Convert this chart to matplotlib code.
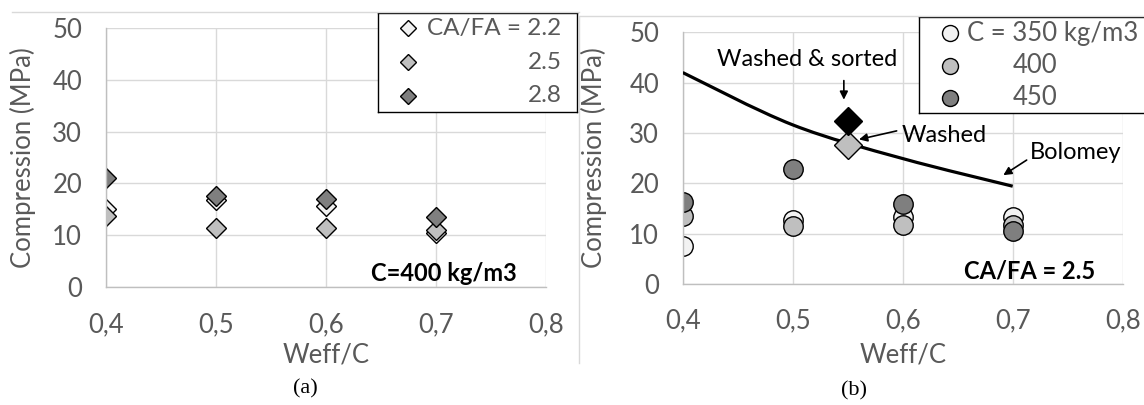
import matplotlib
matplotlib.use("Agg")
import matplotlib.pyplot as plt
import numpy as np
from matplotlib.path import Path
from matplotlib.patches import PathPatch
from matplotlib.lines import Line2D

plt.rcParams['font.family'] = ['Lato', 'DejaVu Sans']

# W/C ratios and compression strengths (MPa)
wc = [0.4, 0.5, 0.6, 0.7]
ca_fa_22 = [15.0, 16.8, 15.6, 10.5]
ca_fa_25 = [13.7, 11.3, 11.3, 11.0]
ca_fa_28 = [21.1, 17.5, 16.9, 13.5]

c350 = [7.5, 12.7, 13.3, 13.3]
c400 = [13.5, 11.4, 11.7, 11.7]
c450 = [16.3, 22.8, 15.9, 10.4]

bolomey = [42.0, 31.6, 24.9, 19.4]

wc_special = [0.55]
washed_sorted = [32.4]
washed = [27.5]

x_ticks = [0.4, 0.5, 0.6, 0.7, 0.8]
x_ticklabels = ['0,4', '0,5', '0,6', '0,7', '0,8']
y_ticks = [0, 10, 20, 30, 40, 50]

WHITE, LIGHT, DARK = '#f2f2f2', '#bfbfbf', '#7f7f7f'
TXT = '#595959'
FS = 18.5
W, H = 1144, 405


def fx(x):
    return x / W


def fy(y):
    return 1 - y / H


fig = plt.figure(figsize=(W / 100, H / 100), dpi=100)


def setup(ax, xpad):
    ax.set_xlim(0.4, 0.8)
    ax.set_ylim(0, 50)
    ax.set_xticks(x_ticks)
    ax.set_xticklabels(x_ticklabels)
    ax.set_yticks(y_ticks)
    ax.grid(True, color='#d9d9d9', lw=1)
    ax.set_axisbelow(True)
    for s in ['top', 'right']:
        ax.spines[s].set_visible(False)
    for s in ['left', 'bottom']:
        ax.spines[s].set_color('#bfbfbf')
        ax.spines[s].set_linewidth(1)
    ax.tick_params(axis='both', length=0, colors=TXT, labelsize=FS)
    ax.tick_params(axis='y', pad=17)
    ax.tick_params(axis='x', pad=xpad)


def excel_smooth(ax, xs, ys, **kw):
    pts = np.column_stack([xs, ys])
    n = len(pts)
    verts = [pts[0]]
    codes = [Path.MOVETO]
    for i in range(n - 1):
        p0 = pts[i - 1] if i > 0 else pts[i]
        p1, p2 = pts[i], pts[i + 1]
        p3 = pts[i + 2] if i + 2 < n else pts[i + 1]
        verts += [p1 + (p2 - p0) / 6, p2 - (p3 - p1) / 6, p2]
        codes += [Path.CURVE4] * 3
    ax.add_patch(PathPatch(Path(verts, codes), fill=False, **kw))


# ---- panel (a)
ax1 = fig.add_axes([fx(105.7), fy(286.8), 440 / W, (286.8 - 28.3) / H])
setup(ax1, 18.5)
for vals, col in [(ca_fa_22, WHITE), (ca_fa_25, LIGHT), (ca_fa_28, DARK)]:
    ax1.plot(wc, vals, 'D', ms=10, mfc=col, mec='black', mew=1, ls='none')
ax1.text(0.774, 2.6, 'C=400 kg/m3', ha='right', va='center',
         fontsize=17, fontweight='bold', color='black')

# ---- panel (b)
ax2 = fig.add_axes([fx(682.7), fy(283.8), 440 / W, (283.8 - 32.3) / H])
setup(ax2, 17.5)
for vals, col in [(c350, WHITE), (c400, LIGHT), (c450, DARK)]:
    ax2.plot(wc, vals, 'o', ms=14, mfc=col, mec='black', mew=1, ls='none')
excel_smooth(ax2, wc, bolomey, color='black', lw=2.3, zorder=3)
ax2.plot(wc_special, washed, 'D', ms=14, mfc=LIGHT, mec='black', mew=1, zorder=4)
ax2.plot(wc_special, washed_sorted, 'D', ms=14, mfc='black', mec='black', mew=1, zorder=4)

arr = dict(arrowstyle='-|>', color='black', lw=1.2, mutation_scale=12, shrinkA=0, shrinkB=0)
ax2.text(0.513, 44.5, 'Washed & sorted', ha='center', va='center', fontsize=17)
ax2.annotate('', xy=(0.5465, 36.6), xytext=(0.5465, 40.4), arrowprops=arr)
ax2.text(0.599, 29.4, 'Washed', ha='left', va='center', fontsize=17)
ax2.annotate('', xy=(0.5603, 28.7), xytext=(0.5945, 30.4), arrowprops=arr)
ax2.text(0.7157, 26.1, 'Bolomey', ha='left', va='center', fontsize=17)
ax2.annotate('', xy=(0.6915, 21.6), xytext=(0.7127, 24.6), arrowprops=arr)
ax2.text(0.7755, 2.6, 'CA/FA = 2.5', ha='right', va='center',
         fontsize=17, fontweight='bold', color='black')

# axis titles and panel labels
for cx, cy_lab in [(23.3, 157.5), (594, 158)]:
    fig.text(fx(cx), fy(cy_lab), 'Compression (MPa)', rotation=90, ha='center',
             va='center', fontsize=FS, color=TXT)
for cx in [325.7, 902.7]:
    fig.text(fx(cx), fy(362), 'Weff/C', ha='center', va='baseline', fontsize=FS, color=TXT)
fig.text(fx(305.5), fy(389), '(a)', ha='center', va='center', fontsize=16,
         family='Liberation Serif')
fig.text(fx(854), fy(391), '(b)', ha='center', va='center', fontsize=16,
         family='Liberation Serif')

# chart-area borders
for xs, ys in [([11.7, 579.3], [12.3, 12.3]), ([580, 1144], [16, 16]),
               ([579.3, 579.3], [16, 363])]:
    fig.add_artist(Line2D([fx(v) for v in xs], [fy(v) for v in ys],
                          color='#d9d9d9', lw=1, transform=fig.transFigure))

# legends (drawn by hand to match alignment)
lg1 = fig.add_axes([fx(377.7), fy(111.7), (577.3 - 377.7) / W, (111.7 - 13.3) / H])
lg1.set_xlim(0, 199.6)
lg1.set_ylim(98.4, 0)
lg1.set_xticks([])
lg1.set_yticks([])
for s in lg1.spines.values():
    s.set_color('black')
    s.set_linewidth(1)
for yy, col, lab in [(15, WHITE, 'CA/FA = 2.2'), (49, LIGHT, '2.5'), (82.7, DARK, '2.8')]:
    lg1.plot([30.6], [yy], 'D', ms=8.5, mfc=col, mec='black', mew=1)
    lg1.text(184, yy, lab, ha='right', va='center', fontsize=17.5, color=TXT)

lg2 = fig.add_axes([fx(919), fy(113.3), (1150 - 919) / W, (113.3 - 17.3) / H])
lg2.set_xlim(0, 231)
lg2.set_ylim(96, 0)
lg2.set_xticks([])
lg2.set_yticks([])
for s in lg2.spines.values():
    s.set_color('black')
    s.set_linewidth(1)
for yy, col, lab, tx in [(16, WHITE, 'C = 350 kg/m3', 47.7), (48.4, LIGHT, '400', 94),
                         (80.4, DARK, '450', 94)]:
    lg2.plot([31], [yy], 'o', ms=11.5, mfc=col, mec='black', mew=1)
    lg2.text(tx, yy, lab, ha='left', va='center', fontsize=FS, color=TXT)

fig.savefig('out.png', dpi=100)
